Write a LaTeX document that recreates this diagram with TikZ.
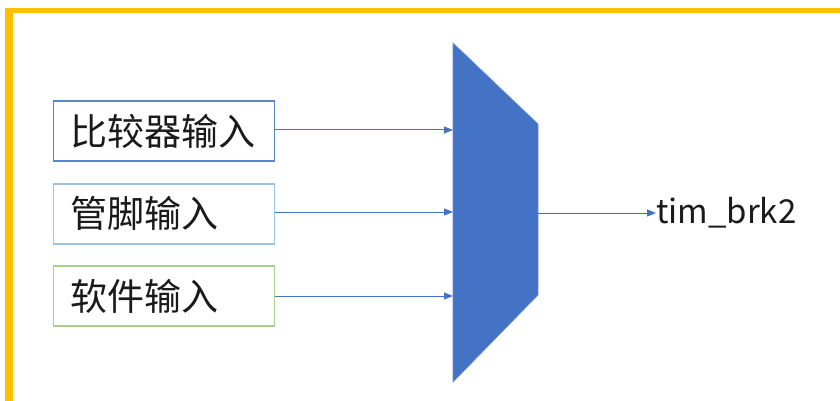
\documentclass[tikz,border=0pt]{standalone}
\usepackage{fontspec}
\setmainfont{Noto Sans CJK SC}
\usetikzlibrary{arrows.meta}
\definecolor{frameY}{HTML}{FFC000}
\definecolor{muxB}{HTML}{4472C4}
\definecolor{boxA}{HTML}{5B84CC}
\definecolor{boxB}{HTML}{9DC3E6}
\definecolor{boxC}{HTML}{A9D18E}
\definecolor{txt}{HTML}{1A1A1A}
\tikzset{
  inbox/.style={draw, line width=1.2pt, fill=white, minimum width=221pt, minimum height=60pt, inner sep=0pt, anchor=west},
  intext/.style={anchor=west, inner sep=0pt, text=txt, font=\fontsize{37}{42}\selectfont},
  conn/.style={draw=muxB, line width=1pt, -{Triangle[length=9pt,width=7pt]}},
}
\begin{document}
\begin{tikzpicture}[x=1pt,y=-1pt]
\useasboundingbox (0,0) rectangle (840,401);
\fill[frameY] (5,8) rectangle (840,13);
\fill[frameY] (5,8) rectangle (13,401);
% boxes
\node[inbox, draw=boxA] (b1) at (53,131) {};
\node[inbox, draw=boxB] (b2) at (53,214) {};
\node[inbox, draw=boxC] (b3) at (53,296) {};
\node[intext] (t1) at (70,131) {比较器输入};
\node[intext] (t2) at (70,213) {管脚输入};
\node[intext] (t3) at (70,296) {软件输入};
% mux
\fill[muxB, draw=muxB!80!white, line width=0.6pt] (453,43) -- (538,124) -- (538,295) -- (453,382) -- cycle;
\coordinate (m1) at (453,130);
\coordinate (m2) at (453,212);
\coordinate (m3) at (453,296);
\coordinate (mo) at (538,213);
\node[anchor=west, inner sep=0pt, text=txt, font=\fontsize{33}{38}\selectfont] (out) at (656,213) {tim\_brk2};
\draw[conn] (b1.east |- m1) -- (m1);
\draw[conn] (b2.east |- m2) -- (m2);
\draw[conn] (b3.east |- m3) -- (m3);
\draw[conn] (mo) -- (out.west);
\end{tikzpicture}
\end{document}
